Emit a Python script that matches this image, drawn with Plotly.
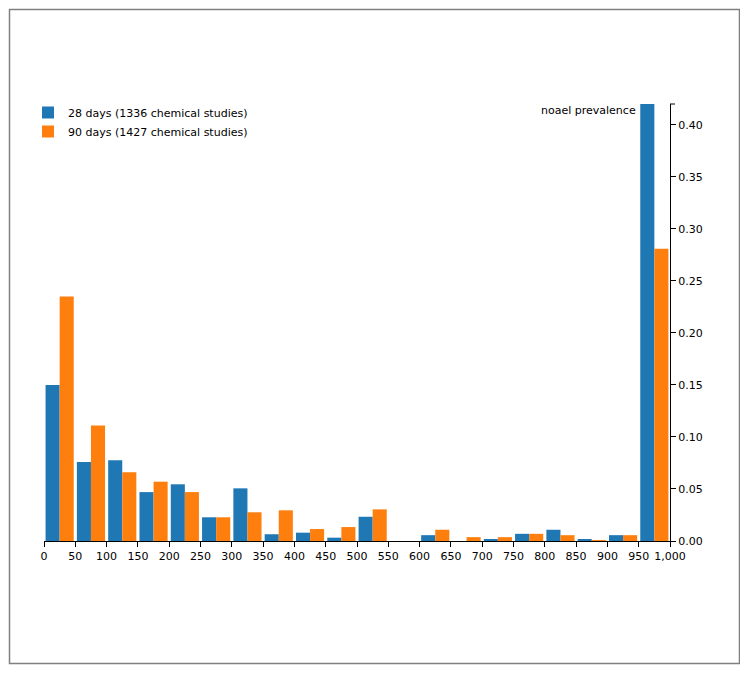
import plotly.graph_objects as go

# ---- data ----
bin_starts = [0, 50, 100, 150, 200, 250, 300, 350, 400, 450,
              500, 550, 600, 650, 700, 750, 800, 850, 900, 950]
bin_width = 50

days28_label = "28 days (1336 chemical studies)"
days28 = [0.150, 0.076, 0.0775, 0.047, 0.0545, 0.0228, 0.0506, 0.0065, 0.008, 0.0032,
          0.0233, 0.0, 0.0056, 0.0, 0.0012, 0.0069, 0.0108, 0.0012, 0.0056, 0.420]

days90_label = "90 days (1427 chemical studies)"
days90 = [0.235, 0.111, 0.066, 0.057, 0.047, 0.0228, 0.0276, 0.0295, 0.0115, 0.0134,
          0.0304, 0.0, 0.0108, 0.0037, 0.0037, 0.0069, 0.0056, 0.0005, 0.0056, 0.281]

x_tickvals = list(range(0, 1001, 50))
y_label = "noael prevalence"

bin_centers = [s + bin_width / 2 for s in bin_starts]

BLUE = "#1f77b4"
ORANGE = "#ff7f0e"
FONT = "DejaVu Sans"

fig = go.Figure()
fig.add_trace(go.Bar(x=bin_centers, y=days28, name=days28_label,
                     marker=dict(color=BLUE, line=dict(width=0))))
fig.add_trace(go.Bar(x=bin_centers, y=days90, name=days90_label,
                     marker=dict(color=ORANGE, line=dict(width=0))))

# page body has an 8px margin: figure pixel = window pixel - OFF
OFF = 8
W, H = 748 - OFF, 673 - OFF
plot_left, plot_right, plot_top, plot_bottom = 44, 670, 104, 541   # window coords
ml = plot_left - OFF
mt = plot_top - OFF
mr = W - (plot_right - OFF)
mb = H - (plot_bottom - OFF)
pw = plot_right - plot_left
ph = plot_bottom - plot_top

def wx(px):
    return (px - plot_left) / pw

def wy(py):
    return (plot_bottom - py) / ph

fig.update_layout(
    width=W, height=H,
    margin=dict(l=ml, r=mr, t=mt, b=mb, pad=0),
    paper_bgcolor="white", plot_bgcolor="white",
    font=dict(family=FONT, size=11, color="black"),
    barmode="group", bargap=0.1, bargroupgap=0,
    showlegend=True,
    legend=dict(x=wx(28), y=wy(98), xanchor="left", yanchor="top",
                bgcolor="rgba(0,0,0,0)", borderwidth=0,
                font=dict(family=FONT, size=11, color="black"),
                tracegroupgap=0),
    xaxis=dict(range=[0, 1000], tickvals=x_tickvals, tickformat=",",
               showgrid=False, zeroline=False, showline=True, linecolor="black", linewidth=1,
               ticks="outside", ticklen=5, tickcolor="black", tickwidth=1,
               tickfont=dict(family=FONT, size=11, color="black")),
    yaxis=dict(range=[0, 0.42], side="right", dtick=0.05, tickformat=".2f",
               showgrid=False, zeroline=False, showline=True, linecolor="black", linewidth=1,
               ticks="outside", ticklen=5, tickcolor="black", tickwidth=1,
               tickfont=dict(family=FONT, size=11, color="black")),
    annotations=[dict(text=y_label, xref="paper", yref="paper", x=1, y=1,
                      xanchor="right", yanchor="middle", xshift=-32, yshift=-6,
                      showarrow=False, font=dict(family=FONT, size=11, color="black"))],
    shapes=[
        # outer frame
        dict(type="rect", xref="paper", yref="paper",
             x0=wx(9.5), x1=wx(739.5), y0=wy(663.5), y1=wy(9.5),
             line=dict(color="#808080", width=1.5), fillcolor="rgba(0,0,0,0)", layer="below"),
        # outer tick at top of y axis
        dict(type="line", xref="paper", yref="paper",
             x0=1, x1=1 + 5 / pw, y0=1, y1=1, line=dict(color="black", width=1)),
    ],
)

fig.write_html("out.html")
